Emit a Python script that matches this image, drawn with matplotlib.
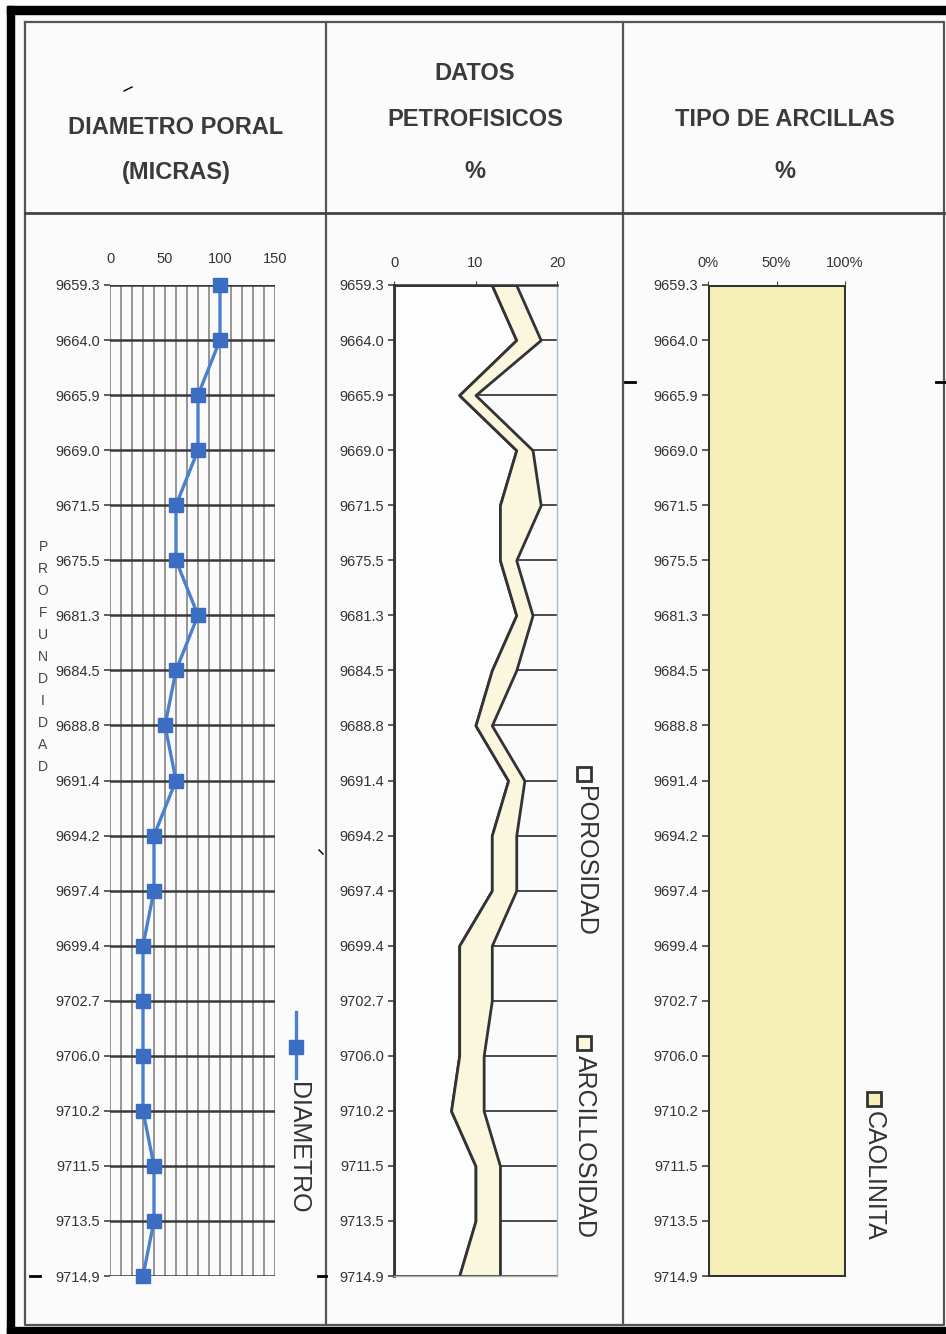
import matplotlib
matplotlib.use('Agg')
import matplotlib.pyplot as plt
from matplotlib import font_manager
from matplotlib.patches import Rectangle
from matplotlib.lines import Line2D

# profundidad (eje vertical, categorias)
depths = ['9659.3', '9664.0', '9665.9', '9669.0', '9671.5', '9675.5', '9681.3',
          '9684.5', '9688.8', '9691.4', '9694.2', '9697.4', '9699.4', '9702.7',
          '9706.0', '9710.2', '9711.5', '9713.5', '9714.9']

# diametro poral (micras)
diametro = [100, 100, 80, 80, 60, 60, 80, 60, 50, 60, 40, 40, 30, 30, 30, 30, 40, 40, 30]

# datos petrofisicos (%), area apilada
porosidad = [12, 15, 8, 15, 13, 13, 15, 12, 10, 14, 12, 12, 8, 8, 8, 7, 10, 10, 8]
arcillosidad = [3, 3, 2, 2, 5, 2, 2, 3, 2, 2, 3, 3, 4, 4, 3, 4, 3, 3, 5]

# tipo de arcillas (%)
caolinita = [100, 100, 100, 100, 100, 100, 100, 100, 100, 100,
             100, 100, 100, 100, 100, 100, 100, 100, 100]

diam_ticks = [0, 50, 100, 150]
petro_ticks = [0, 10, 20]
arc_ticks = [0, 50, 100]
arc_labels = ['0%', '50%', '100%']

W, H = 946, 1334

narrow = 'Liberation Sans Narrow'
try:
    font_manager.findfont(narrow, fallback_to_default=False)
    head_size = 20
except Exception:
    narrow = 'Liberation Sans'
    head_size = 17

plt.rcParams['font.family'] = ['Liberation Sans', 'DejaVu Sans']

fig = plt.figure(figsize=(W / 100, H / 100), dpi=100)
fig.patch.set_facecolor('#fbfbfb')

# frame / table drawn in pixel coordinates
bg = fig.add_axes([0, 0, 1, 1])
bg.set_xlim(0, W)
bg.set_ylim(H, 0)
bg.axis('off')
bg.add_patch(Rectangle((7, 6), 7, 1330, color='black'))
bg.add_patch(Rectangle((7, 6), 945, 8, color='black'))
bg.add_patch(Rectangle((7, 1327), 945, 8, color='black'))
tbl = dict(color='#555555', lw=1.6)
bg.plot([25, 944, 944, 25, 25], [22, 22, 1325, 1325, 22], **tbl)
bg.plot([326, 326], [22, 1325], **tbl)
bg.plot([623, 623], [22, 1325], **tbl)
bg.plot([25, 944], [213, 213], color='#444444', lw=2)
# small marks present on the sheet
for x0, x1, yy in [(30, 40, 1276), (318, 326, 1276), (625, 635, 382), (936, 946, 382)]:
    bg.plot([x0, x1], [yy, yy], color='black', lw=2)
bg.plot([124, 132], [91, 87], color='black', lw=1)
bg.plot([319, 323], [850, 854], color='black', lw=1)

hd = dict(family=[narrow, 'DejaVu Sans'], fontweight='bold', fontsize=head_size,
          color='#3a3a3a', ha='center', va='center')
bg.text(176, 127, 'DIAMETRO PORAL', **hd)
bg.text(176, 172, '(MICRAS)', **hd)
bg.text(475, 73, 'DATOS', **hd)
bg.text(475, 120, 'PETROFISICOS', **hd)
bg.text(475, 172, '%', **hd)
bg.text(785, 120, 'TIPO DE ARCILLAS', **hd)
bg.text(785, 172, '%', **hd)

bg.text(43, 657, '\n'.join('PROFUNDIDAD'), fontsize=10, color='#444444',
        ha='center', va='center', linespacing=1.72)

ypos = list(range(len(depths)))
top = 1 - 1276 / H
hgt = 991 / H
tick_kw = dict(labelsize=10.5, labelcolor='#333333', colors='#444444')

# --- diametro poral ---
ax1 = fig.add_axes([110 / W, top, 165 / W, hgt])
ax1.set_facecolor('none')
ax1.plot(diametro, ypos, color='#4a80d0', lw=2.4, marker='s', ms=9.5,
         mfc='#3b6ec2', mec='#3b6ec2', clip_on=False, zorder=3)
ax1.set_xlim(0, 150)
ax1.set_ylim(len(depths) - 1, 0)
ax1.set_xticks(diam_ticks)
ax1.set_xticks(range(0, 151, 10), minor=True)
ax1.set_yticks(ypos)
ax1.set_yticklabels(depths)
ax1.xaxis.tick_top()
ax1.tick_params(axis='x', which='both', length=0, pad=14, **tick_kw)
ax1.tick_params(axis='y', length=4, width=1.2, pad=3, **tick_kw)
ax1.grid(axis='x', which='both', color='#8e8e8e', lw=1.3)
ax1.grid(axis='y', color='#3a3a3a', lw=1.8)
for s in ax1.spines.values():
    s.set_visible(False)

# --- datos petrofisicos ---
total = [p + a for p, a in zip(porosidad, arcillosidad)]
ax2 = fig.add_axes([394 / W, top, 163 / W, hgt])
ax2.set_facecolor('none')
ax2.set_axisbelow(True)
ax2.fill_betweenx(ypos, 0, porosidad, facecolor='#fdfdfd', edgecolor='#333333', lw=2, zorder=2)
ax2.fill_betweenx(ypos, porosidad, total, facecolor='#fbf6de', edgecolor='#333333', lw=2, zorder=2)
ax2.set_xlim(0, 20)
ax2.set_ylim(len(depths) - 1, 0)
ax2.set_xticks(petro_ticks)
ax2.set_yticks(ypos)
ax2.set_yticklabels(depths)
ax2.xaxis.tick_top()
ax2.tick_params(axis='x', length=3, pad=8, **tick_kw)
ax2.tick_params(axis='y', length=4, width=1.2, pad=3, **tick_kw)
ax2.grid(axis='y', color='#4a4a4a', lw=1.4)
ax2.spines['left'].set_color('#333333')
ax2.spines['left'].set_linewidth(2)
ax2.spines['top'].set_color('#333333')
ax2.spines['top'].set_linewidth(1.8)
ax2.spines['right'].set_color('#a9b9c9')
ax2.spines['right'].set_linewidth(1)
ax2.spines['bottom'].set_color('#b0b0b0')
ax2.spines['bottom'].set_linewidth(1)

# --- tipo de arcillas ---
ax3 = fig.add_axes([708 / W, top, 137 / W, hgt])
ax3.set_facecolor('none')
ax3.fill_betweenx(ypos, 0, caolinita, facecolor='#f6efb6', edgecolor='#333333', lw=2.2)
ax3.set_xlim(0, 100)
ax3.set_ylim(len(depths) - 1, 0)
ax3.set_xticks(arc_ticks)
ax3.set_xticklabels(arc_labels)
ax3.set_yticks(ypos)
ax3.set_yticklabels(depths)
ax3.xaxis.tick_top()
ax3.tick_params(axis='x', length=3, pad=8, **tick_kw)
ax3.tick_params(axis='y', length=4, width=1.2, pad=3, **tick_kw)
for s in ax3.spines.values():
    s.set_visible(False)

# --- leyendas (verticales) ---
lg = dict(fontsize=18, color='#333333', rotation=270, ha='center', va='top')
bg.add_line(Line2D([296, 296], [1012, 1078], color='#4a80d0', lw=2.4))
bg.add_line(Line2D([296], [1047], marker='s', ms=10, color='#3b6ec2'))
bg.text(298, 1082, 'DIAMETRO', **lg)

bg.add_patch(Rectangle((577, 767), 14, 14, facecolor='#fdfdfd', edgecolor='#333333', lw=2))
bg.text(585, 786, 'POROSIDAD', **lg)
bg.add_patch(Rectangle((577, 1036), 14, 14, facecolor='#fbf6de', edgecolor='#333333', lw=2))
bg.text(585, 1055, 'ARCILLOSIDAD', **lg)
bg.add_patch(Rectangle((867, 1092), 14, 14, facecolor='#f6efb6', edgecolor='#333333', lw=2))
bg.text(874, 1111, 'CAOLINITA', **lg)

fig.savefig('out.png', dpi=100, facecolor=fig.get_facecolor())
